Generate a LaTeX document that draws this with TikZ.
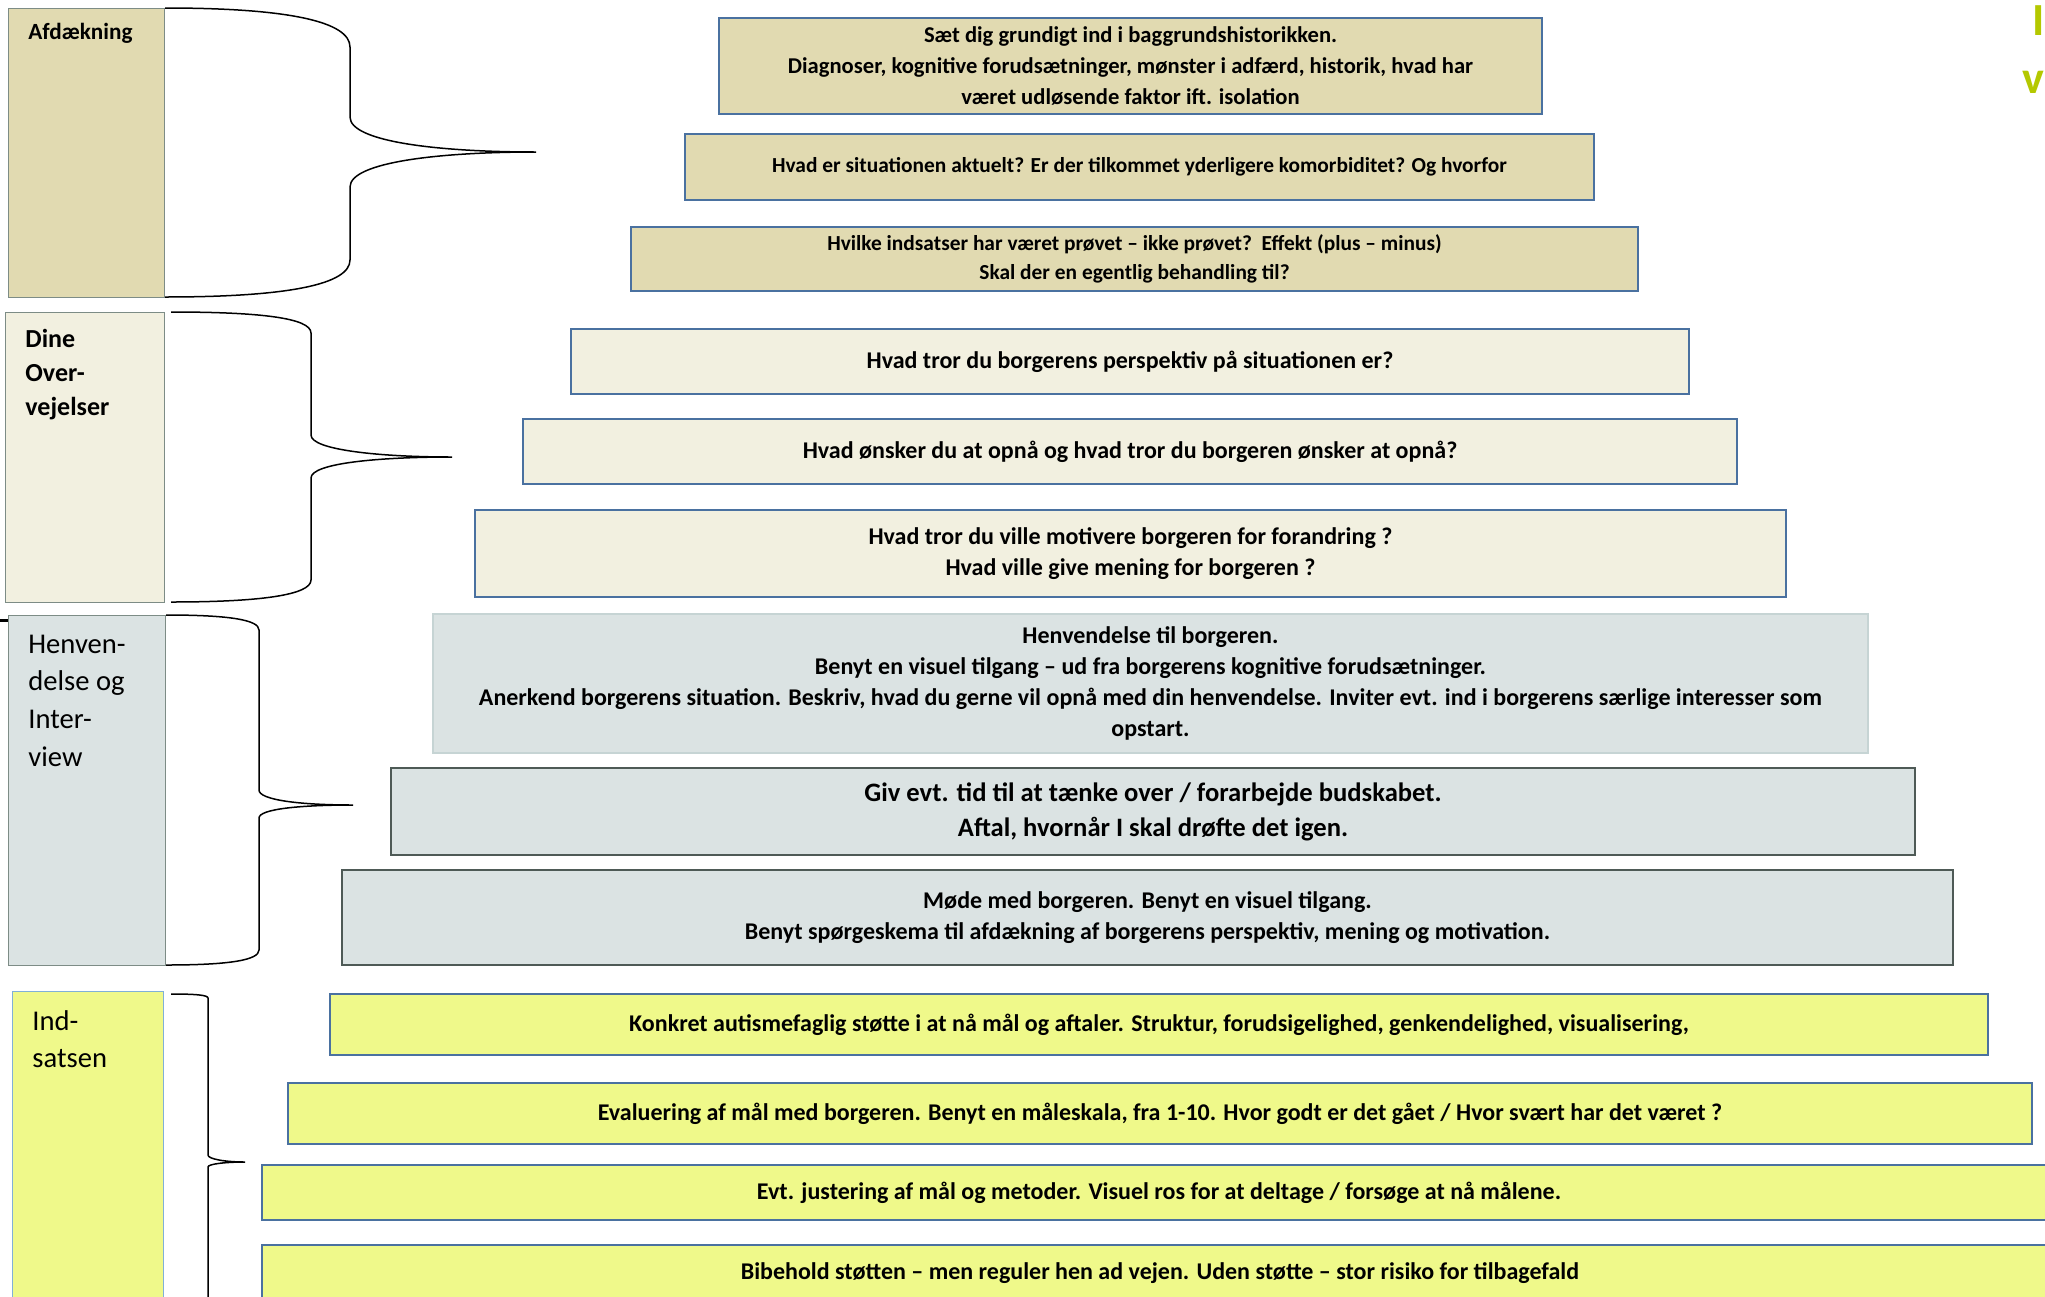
\documentclass[tikz,border=0pt]{standalone}
\usepackage{fontspec}
\setmainfont{Carlito}
\usetikzlibrary{positioning}
\definecolor{rim}{HTML}{4A71A0}
\definecolor{tanfill}{HTML}{E1DAB1}
\definecolor{creamfill}{HTML}{F2F0E0}
\definecolor{greyfill}{HTML}{DBE3E3}
\definecolor{limefill}{HTML}{EFF98A}
\definecolor{slate}{HTML}{4E5A56}
\definecolor{mist}{HTML}{C6D4D4}
\definecolor{sidegrey}{HTML}{7D8C86}
\definecolor{sideblue}{HTML}{80B0D8}
\definecolor{lime}{HTML}{B4C800}
\newcommand{\fsz}[2]{\fontsize{#1}{#2}\selectfont}
\tikzset{
  span/.style args={#1,#2,#3,#4}{minimum width={(#3-#1)*0.5pt},minimum height={(#4-#2)*0.5pt},
    at={({(#1+#3)/2},{(#2+#4)/2+2})},anchor=center},
  stepbox/.style={draw=rim,line width=1.3pt,align=center,inner sep=0pt,font=\bfseries\fsz{12}{15.5}},
  tanbox/.style={stepbox,fill=tanfill},
  creambox/.style={stepbox,fill=creamfill},
  greybox/.style={stepbox,fill=greyfill,draw=slate},
  limebox/.style={stepbox,fill=limefill},
  side/.style={draw=sidegrey,line width=0.5pt,inner sep=0pt},
  sidetxt/.style={anchor=base west,inner sep=0pt},
  brace/.style={line width=0.75pt},
}
\begin{document}
\begin{tikzpicture}[x=0.5pt,y=-0.5pt]
\useasboundingbox (0,0) rectangle (2045,1296);

% phase columns
\node[side,fill=tanfill,span={8,6,164,295}] (afd) {};
\node[side,fill=creamfill,span={5,310,164,600}] (dine) {};
\node[side,fill=greyfill,span={8,613,165,963}] (henv) {};
\node[side,fill=limefill,draw=sideblue,span={12,989,163,1320}] (inds) {};
\node[sidetxt,font=\bfseries\fsz{11.6}{14}] (afdtxt) at (28,39) {Afdækning};
\node[sidetxt,font=\bfseries\fsz{13}{17}] (dinetxt) at (25,347)
  {\parbox[t]{70pt}{\raggedright Dine\\Over-\\vejelser}};
\node[sidetxt,font=\fsz{14.3}{18.9}] (henvtxt) at (28,653)
  {\parbox[t]{70pt}{\raggedright Henven-\\delse og\\Inter-\\view}};
\node[sidetxt,font=\fsz{14.3}{18.6}] (indstxt) at (32,1030)
  {\parbox[t]{70pt}{\raggedright Ind-\\satsen}};
\draw[line width=1.5pt] (0,620) -- (8,620);

% braces
\draw[brace] (165,8) .. controls (290,8) and (350,22) .. (350,47) -- (350,117)
  .. controls (350,142) and (440,152) .. (536,152)
  .. controls (440,152) and (350,162) .. (350,187) -- (350,260)
  .. controls (350,284) and (290,297) .. (165,297);
\draw[brace] (171,312) .. controls (260,312) and (311,318) .. (311,333) -- (311,435)
  .. controls (311,450) and (380,457) .. (452,457)
  .. controls (380,457) and (311,463) .. (311,478) -- (311,580)
  .. controls (311,595) and (260,602) .. (171,602);
\draw[brace] (166,615) .. controls (230,615) and (259,620) .. (259,630) -- (259,790)
  .. controls (259,800) and (300,805) .. (353,805)
  .. controls (300,805) and (259,809) .. (259,818) -- (259,950)
  .. controls (259,960) and (230,965) .. (166,965);
\draw[brace] (171,994) .. controls (195,994) and (208,995) .. (208,998) -- (208,1155)
  .. controls (208,1159) and (225,1162) .. (245,1162)
  .. controls (225,1162) and (208,1164) .. (208,1167) -- (208,1320);

% Afdækning
\node[tanbox,font=\bfseries\fsz{11.3}{15.5},span={719,16,1542,112}] (a1) {Sæt dig grundigt ind i baggrundshistorikken.\\
  Diagnoser, kognitive forudsætninger, mønster i adfærd, historik, hvad har\\
  været udløsende faktor ift. isolation};
\node[tanbox,font=\bfseries\fsz{10.7}{14},span={685,132,1594,198}] (a2)
  {Hvad er situationen aktuelt? Er der tilkommet yderligere komorbiditet? Og hvorfor};
\node[tanbox,font=\bfseries\fsz{10.7}{14.4},span={631,225,1638,289}] (a3)
  {Hvilke indsatser har været prøvet – ikke prøvet?\ \ Effekt (plus – minus)\\
  Skal der en egentlig behandling til?};

% Dine overvejelser
\node[creambox,span={571,327,1689,392}] (d1) {Hvad tror du borgerens perspektiv på situationen er?};
\node[creambox,span={523,417,1737,482}] (d2) {Hvad ønsker du at opnå og hvad tror du borgeren ønsker at opnå?};
\node[creambox,span={475,508,1786,595}] (d3) {Hvad tror du ville motivere borgeren for forandring ?\\
  Hvad ville give mening for borgeren ?};

% Henvendelse og interview
\node[greybox,draw=mist,line width=1pt,span={433,612,1868,751}] (h1) {Henvendelse til borgeren.\\
  Benyt en visuel tilgang – ud fra borgerens kognitive forudsætninger.\\
  Anerkend borgerens situation. Beskriv, hvad du gerne vil opnå med din henvendelse. Inviter evt. ind i borgerens særlige interesser som\\
  opstart.};
\node[greybox,font=\bfseries\fsz{13.3}{17.5},span={391,766,1915,853}] (h2)
  {Giv evt. tid til at tænke over / forarbejde budskabet.\\Aftal, hvornår I skal drøfte det igen.};
\node[greybox,span={342,868,1953,963}] (h3) {Møde med borgeren. Benyt en visuel tilgang.\\
  Benyt spørgeskema til afdækning af borgerens perspektiv, mening og motivation.};

% Indsatsen
\node[limebox,span={330,992,1988,1053}] (i1)
  {Konkret autismefaglig støtte i at nå mål og aftaler. Struktur, forudsigelighed, genkendelighed, visualisering,};
\node[limebox,span={288,1081,2032,1142}] (i2)
  {Evaluering af mål med borgeren. Benyt en måleskala, fra 1-10. Hvor godt er det gået / Hvor svært har det været ?};
\node[limebox,span={262,1163,2056,1218}] (i3)
  {Evt. justering af mål og metoder. Visuel ros for at deltage / forsøge at nå målene.};
\node[limebox,span={262,1243,2058,1299}] (i4)
  {Bibehold støtten – men reguler hen ad vejen. Uden støtte – stor risiko for tilbagefald};

% cut-off heading at the right edge
\node[sidetxt,text=lime,font=\bfseries\fsz{23}{28}] (ttl) at (2032,35) {I};
\node[sidetxt,text=lime,font=\bfseries\fsz{23}{28}] (ttlb) at (2022,93) {v};
\end{tikzpicture}
\end{document}
